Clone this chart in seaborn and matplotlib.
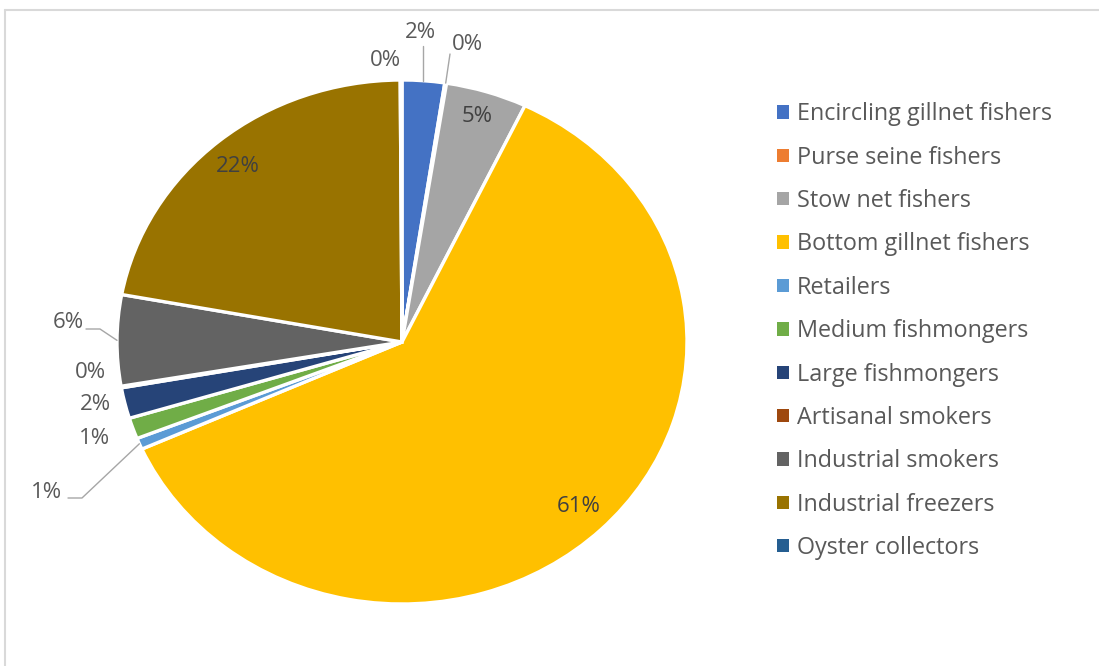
import numpy as np
import matplotlib
matplotlib.use("Agg")
import matplotlib.pyplot as plt
from matplotlib.lines import Line2D
import seaborn as sns

# Share of each actor group (percent), clockwise from 12 o'clock
categories = [
    "Encircling gillnet fishers",
    "Purse seine fishers",
    "Stow net fishers",
    "Bottom gillnet fishers",
    "Retailers",
    "Medium fishmongers",
    "Large fishmongers",
    "Artisanal smokers",
    "Industrial smokers",
    "Industrial freezers",
    "Oyster collectors",
]
shares = [2.4, 0.1, 4.6, 61.2, 0.7, 1.3, 1.9, 0.1, 5.6, 22.0, 0.1]

# Office-style slice colours
slice_colors = sns.color_palette([
    "#4472C4", "#ED7D31", "#A5A5A5", "#FFC000", "#5B9BD5", "#70AD47",
    "#264478", "#9E480E", "#636363", "#997300", "#255E91",
])

sns.set_theme(style="white")
plt.rcParams["font.family"] = ["Open Sans", "DejaVu Sans"]

W, H = 1099, 666
fig = plt.figure(figsize=(W / 100, H / 100), dpi=100)
ax = fig.add_axes([0, 0, 1, 1])

# pie centre and radii in pixels (the pie is slightly wider than tall)
cx, cy, rx, ry = 402, 342, 285, 262

wedges, _ = ax.pie(
    shares,
    colors=slice_colors,
    startangle=90,
    counterclock=False,
    radius=1.0,
    wedgeprops=dict(edgecolor="white", linewidth=2.4),
)
ax.set_aspect("auto")
ax.set_xlim(-cx / rx, (W - cx) / rx)
ax.set_ylim(-(H - cy) / ry, cy / ry)
ax.axis("off")


def px(x, y):
    """pixel position -> data coordinates"""
    return (x - cx) / rx, (cy - y) / ry


def edge_point(w, r=1.0):
    th = np.deg2rad((w.theta1 + w.theta2) / 2)
    return r * np.cos(th), r * np.sin(th)


label_pos = {
    0: px(420, 32),
    1: px(467, 45),
    2: px(477, 116),
    3: px(579, 507),
    4: px(47, 492),
    5: px(95, 438),
    6: px(95, 405),
    7: px(90, 372),
    8: px(68, 323),
    9: px(238, 166),
    10: px(385, 60),
}
inside = {2, 3, 9}

for i, v in enumerate(shares):
    x, y = label_pos[i]
    ax.text(x, y, f"{round(v):d}%", ha="center", va="center",
            fontsize=16, color="#404040" if i in inside else "#595959")

leader_kw = dict(color="#A6A6A6", linewidth=1.0)

# leader lines for labels set away from their slices
ex, ey = edge_point(wedges[0], 1.0)
ax.add_line(Line2D([ex, ex], [ey, px(0, 46)[1]], **leader_kw))

ex, ey = edge_point(wedges[1], 1.0)
lx, ly = px(450, 54)
ax.add_line(Line2D([ex, lx], [ey, ly], **leader_kw))

ex, ey = edge_point(wedges[4], 1.0)
ax_, ay_ = px(68, 498)
bx_, by_ = px(82, 498)
ax.add_line(Line2D([ax_, bx_, ex], [ay_, by_, ey], **leader_kw))

ex, ey = edge_point(wedges[8], 1.0)
ax_, ay_ = px(86, 329)
bx_, by_ = px(100, 329)
ax.add_line(Line2D([ax_, bx_, ex], [ay_, by_, ey], **leader_kw))

leg = ax.legend(
    wedges, categories,
    loc="upper left",
    bbox_to_anchor=(768 / W, 1 - 93 / H),
    bbox_transform=fig.transFigure,
    frameon=False,
    fontsize=16.8,
    labelcolor="#595959",
    handlelength=0.5,
    handleheight=0.5,
    handletextpad=0.35,
    labelspacing=0.83,
    borderaxespad=0,
)
for h in leg.legend_handles:
    h.set_linewidth(0)

# thin chart-area frame
frame_kw = dict(color="#D9D9D9", linewidth=1.5, transform=fig.transFigure)
fig.add_artist(Line2D([5 / W, 1], [1 - 10 / H, 1 - 10 / H], **frame_kw))
fig.add_artist(Line2D([5 / W, 5 / W], [0, 1 - 10 / H], **frame_kw))

fig.savefig("out.png", dpi=100, facecolor="white")
